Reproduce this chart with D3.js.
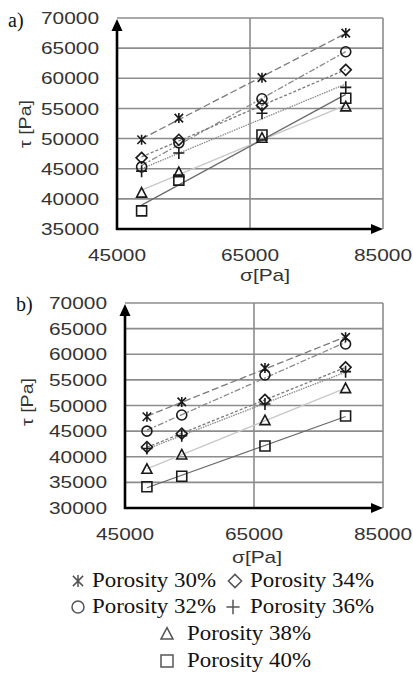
<!DOCTYPE html>
<html><head><meta charset="utf-8">
<script src="https://cdn.jsdelivr.net/npm/d3@7"></script>
<style>body{margin:0;background:#fff}svg{display:block}
.serif{font-family:"Times New Roman",serif}
.sans{font-family:"Liberation Sans",Arial,sans-serif}</style>
</head><body>
<svg id="c" width="413" height="674"></svg>
<script>
const porosityLabels = ["Porosity 30%","Porosity 32%","Porosity 34%","Porosity 36%","Porosity 38%","Porosity 40%"];
const markerTypes = ["star","circle","diamond","plus","triangle","square"];
const sigmaA = [48700, 54300, 66800, 79400];
const tauA30 = [49800, 53400, 60100, 67500];
const tauA32 = [45300, 49300, 56600, 64400];
const tauA34 = [46800, 49800, 55500, 61400];
const tauA36 = [44600, 47600, 54200, 58500];
const tauA38 = [41000, 44400, 50100, 55300];
const tauA40 = [38000, 43100, 50600, 56700];
const sigmaB = [48400, 53800, 66700, 79200];
const tauB30 = [47800, 50700, 57300, 63300];
const tauB32 = [45000, 48150, 55950, 62000];
const tauB34 = [41900, 44500, 51100, 57450];
const tauB36 = [41600, 44100, 50300, 56600];
const tauB38 = [37600, 40400, 47100, 53350];
const tauB40 = [34150, 36200, 42100, 47950];
const xTicks = [45000, 65000, 85000];
const yTicksA = [35000, 40000, 45000, 50000, 55000, 60000, 65000, 70000];
const yTicksB = [30000, 35000, 40000, 45000, 50000, 55000, 60000, 65000, 70000];

const lineDash = ["7,3", "6,2,2,2", "3,2", "1.5,1", null, null];
const lineColor = ["#7a7a7a", "#8a8a8a", "#7a7a7a", "#8a8a8a", "#c8c8c8", "#6a6a6a"];

const svg = d3.select("#c");
svg.append("rect").attr("width",413).attr("height",674).attr("fill","#fff");

function markerPath(type, s) {
  const p = d3.path();
  if (type === "star") {
    p.moveTo(-s*0.85,-s*0.85); p.lineTo(s*0.85,s*0.85);
    p.moveTo(s*0.85,-s*0.85); p.lineTo(-s*0.85,s*0.85);
    p.moveTo(0,-s); p.lineTo(0,s);
  } else if (type === "circle") {
    p.arc(0,0,s,0,Math.PI*2); p.closePath();
  } else if (type === "diamond") {
    p.moveTo(0,-s*1.1); p.lineTo(s*1.1,0); p.lineTo(0,s*1.1); p.lineTo(-s*1.1,0); p.closePath();
  } else if (type === "plus") {
    p.moveTo(-s*1.1,0); p.lineTo(s*1.1,0); p.moveTo(0,-s*1.2); p.lineTo(0,s*1.2);
  } else if (type === "triangle") {
    p.moveTo(0,-s*1.05); p.lineTo(s,s*0.85); p.lineTo(-s,s*0.85); p.closePath();
  } else if (type === "square") {
    p.rect(-s,-s,2*s,2*s);
  }
  return p.toString();
}

function fit(xs, ys) {
  const mx = d3.mean(xs), my = d3.mean(ys);
  let num = 0, den = 0;
  xs.forEach((xv,i)=>{ num += (xv-mx)*(ys[i]-my); den += (xv-mx)*(xv-mx); });
  const b = num/den, a = my - b*mx;
  return xv => a + b*xv;
}

function panel(cfg) {
  const x = d3.scaleLinear().domain([45000, 85000]).range([cfg.x0, cfg.x1]);
  const y = d3.scaleLinear().domain([cfg.yTicks[0], 70000]).range([cfg.yb, cfg.yt]);
  const g = svg.append("g");
  g.selectAll("line.hg").data(cfg.yTicks.slice(1)).join("line").attr("class","hg")
    .attr("x1", x(45000)).attr("x2", x(85000))
    .attr("y1", d=>y(d)).attr("y2", d=>y(d))
    .attr("stroke","#8c8c8c").attr("stroke-width",1.6);
  g.selectAll("line.vg").data(xTicks.slice(1)).join("line").attr("class","vg")
    .attr("x1", d=>x(d)).attr("x2", d=>x(d))
    .attr("y1", y(70000)).attr("y2", cfg.yb)
    .attr("stroke","#8c8c8c").attr("stroke-width",1.6);
  cfg.series.forEach((ys, i) => {
    const f = fit(cfg.sigma, ys);
    const x1 = cfg.sigma[0], x2 = cfg.sigma[cfg.sigma.length-1];
    g.append("line")
      .attr("x1", x(x1)).attr("y1", y(f(x1)))
      .attr("x2", x(x2)).attr("y2", y(f(x2)))
      .attr("stroke", lineColor[i]).attr("stroke-width", 1.3)
      .attr("stroke-dasharray", lineDash[i]);
  });
  cfg.series.forEach((ys, i) => {
    g.selectAll(null).data(ys).join("path")
      .attr("transform", (d,j)=>`translate(${x(cfg.sigma[j])},${y(d)})`)
      .attr("d", markerPath(markerTypes[i], 5))
      .attr("fill","none").attr("stroke","#1a1a1a").attr("stroke-width",1.6);
  });
  const xa = x(45000), ybot = cfg.yb;
  g.append("line").attr("x1", xa).attr("x2", xa).attr("y1", ybot+1).attr("y2", y(70000)+10)
    .attr("stroke","#000").attr("stroke-width",2.6);
  g.append("path").attr("d", `M${xa},${y(70000)+1}L${xa+5.5},${y(70000)+13}L${xa-5.5},${y(70000)+13}Z`).attr("fill","#000");
  g.append("line").attr("x1", xa-1).attr("x2", x(85000)-10).attr("y1", ybot).attr("y2", ybot)
    .attr("stroke","#000").attr("stroke-width",2.6);
  g.append("path").attr("d", `M${x(85000)},${ybot}L${x(85000)-12},${ybot-5}L${x(85000)-12},${ybot+5}Z`).attr("fill","#000");
  g.selectAll("text.yt").data(cfg.yTicks).join("text").attr("class","yt sans")
    .attr("x", xa - 18).attr("y", d=>y(d)).attr("dy","0.36em")
    .attr("text-anchor","end").attr("font-size",17)
    .attr("fill","#333").attr("textLength",58).attr("lengthAdjust","spacingAndGlyphs")
    .text(d=>d);
  g.selectAll("text.xt").data(xTicks).join("text").attr("class","xt sans")
    .attr("x", d=>x(d)).attr("y", cfg.yb + cfg.xtOff).attr("dy","0.36em")
    .attr("text-anchor","middle").attr("font-size",17)
    .attr("fill","#333").attr("textLength",58).attr("lengthAdjust","spacingAndGlyphs")
    .text(d=>d);
  g.append("text").attr("class","sans").attr("x", cfg.xTitle[0]).attr("y", cfg.xTitle[1]).attr("dy","0.36em")
    .attr("text-anchor","middle").attr("font-size",17)
    .attr("fill","#333").attr("textLength",50).attr("lengthAdjust","spacingAndGlyphs")
    .text("σ[Pa]");
  g.append("text").attr("class","sans").attr("transform", `translate(${cfg.yTitle[0]},${cfg.yTitle[1]}) rotate(-90)`)
    .attr("dy","0.36em").attr("text-anchor","middle").attr("font-size",16)
    .attr("fill","#333").attr("textLength",48).attr("lengthAdjust","spacingAndGlyphs")
    .text("τ [Pa]");
  g.append("text").attr("class","serif").attr("x", cfg.label[0]).attr("y", cfg.label[1])
    .attr("font-size",20).attr("fill","#111").text(cfg.labelText);
}

panel({
  sigma: sigmaA, series: [tauA30, tauA32, tauA34, tauA36, tauA38, tauA40],
  yTicks: yTicksA, x0: 117, x1: 383, yt: 18, yb: 229, xtOff: 26,
  xTitle: [265, 275], yTitle: [25, 124], label: [8, 27], labelText: "a)"
});
panel({
  sigma: sigmaB, series: [tauB30, tauB32, tauB34, tauB36, tauB38, tauB40],
  yTicks: yTicksB, x0: 125, x1: 383, yt: 303, yb: 508, xtOff: 26,
  xTitle: [257, 557], yTitle: [27, 402], label: [16, 311], labelText: "b)"
});

const legendItems = [
  {i:0, mx:78, tx:92, y:587},
  {i:2, mx:235, tx:250, y:587},
  {i:1, mx:78, tx:92, y:613},
  {i:3, mx:233, tx:250, y:613},
  {i:4, mx:167, tx:187, y:640},
  {i:5, mx:167, tx:187, y:667}
];
const lg = svg.append("g");
legendItems.forEach(it => {
  lg.append("path").attr("transform", `translate(${it.mx},${it.y-6})`)
    .attr("d", markerPath(markerTypes[it.i], 6))
    .attr("fill","none").attr("stroke","#555").attr("stroke-width",1.5);
  lg.append("text").attr("class","serif").attr("x", it.tx).attr("y", it.y)
    .attr("font-size",21)
    .attr("fill","#111").attr("textLength",124).attr("lengthAdjust","spacingAndGlyphs")
    .text(porosityLabels[it.i]);
});
</script>
</body></html>
